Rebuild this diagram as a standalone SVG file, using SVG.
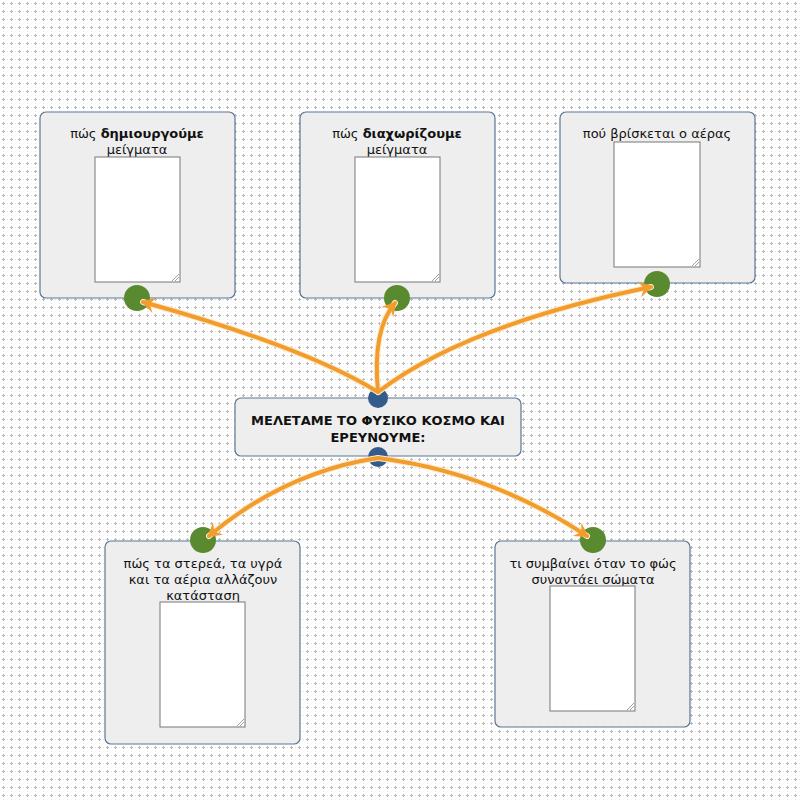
<svg xmlns="http://www.w3.org/2000/svg" width="800" height="800" viewBox="0 0 800 800">
<defs>
<pattern id="grid" x="0" y="0" width="8" height="8" patternUnits="userSpaceOnUse">
<rect x="3" y="2" width="1" height="3" fill="#b8b8b8"/>
<rect x="2" y="3" width="3" height="1" fill="#b8b8b8"/>
<rect x="7" y="3" width="1" height="1" fill="#e0e0e0"/>
<rect x="3" y="7" width="1" height="1" fill="#e0e0e0"/>
</pattern>
<marker id="arr" viewBox="0 0 20 20" refX="14" refY="10" markerWidth="20" markerHeight="20" markerUnits="userSpaceOnUse" orient="auto">
<path d="M2,2 L16,10 L2,18 L7,10 Z" fill="#f29c2e"/>
</marker>
<style>
.box{fill:#eeeeee;stroke:#5a7896;stroke-width:1.2}
.ta{fill:#ffffff;stroke:#777;stroke-width:1}
.grip{stroke:#888;stroke-width:0.8}
.port{fill:#5a8a2f}
.hub{fill:#335c8c}
.t{font-family:"DejaVu Sans",Verdana,sans-serif;font-size:13px;fill:#111;text-anchor:middle}
.b{font-weight:bold}
.halo{fill:none;stroke:#fde9c4;stroke-width:6;stroke-linecap:round}
.edge{fill:none;stroke:#f29c2e;stroke-width:4;stroke-linecap:round}
</style>
</defs>
<rect width="800" height="800" fill="#ffffff"/>
<rect x="0" y="0" width="800" height="800" fill="url(#grid)"/>

<g id="node1">
<rect class="box" x="40" y="112" width="195" height="186" rx="6"/>
<text class="t" x="137" y="138">πώς <tspan class="b">δημιουργούμε</tspan></text>
<text class="t" x="137" y="154">μείγματα</text>
<rect class="ta" x="95" y="157" width="85" height="125"/>
<path class="grip" d="M172,281 L179,274 M175,281 L179,277"/>
</g>
<g id="node2">
<rect class="box" x="300" y="112" width="195" height="186" rx="6"/>
<text class="t" x="397" y="138">πώς <tspan class="b">διαχωρίζουμε</tspan></text>
<text class="t" x="397" y="154">μείγματα</text>
<rect class="ta" x="355" y="157" width="85" height="125"/>
<path class="grip" d="M432,281 L439,274 M435,281 L439,277"/>
</g>
<g id="node3">
<rect class="box" x="560" y="112" width="195" height="171" rx="6"/>
<text class="t" x="657" y="138">πού βρίσκεται ο αέρας</text>
<rect class="ta" x="614" y="142" width="86" height="125"/>
<path class="grip" d="M692,266 L699,259 M695,266 L699,262"/>
</g>
<g id="center">
<rect class="box" x="235" y="398" width="286" height="58" rx="6"/>
<text class="t b" x="378" y="425">ΜΕΛΕΤΑΜΕ ΤΟ ΦΥΣΙΚΟ ΚΟΣΜΟ ΚΑΙ</text>
<text class="t b" x="378" y="442">ΕΡΕΥΝΟΥΜΕ:</text>
</g>
<g id="node4">
<rect class="box" x="105" y="541" width="195" height="203" rx="6"/>
<text class="t" x="203" y="568">πώς τα στερεά, τα υγρά</text>
<text class="t" x="203" y="584">και τα αέρια αλλάζουν</text>
<text class="t" x="203" y="600">κατάσταση</text>
<rect class="ta" x="160" y="602" width="85" height="125"/>
<path class="grip" d="M237,726 L244,719 M240,726 L244,722"/>
</g>
<g id="node5">
<rect class="box" x="495" y="541" width="195" height="186" rx="6"/>
<text class="t" x="593" y="568">τι συμβαίνει όταν το φώς</text>
<text class="t" x="593" y="584">συναντάει σώματα</text>
<rect class="ta" x="550" y="586" width="85" height="125"/>
<path class="grip" d="M627,710 L634,703 M630,710 L634,706"/>
</g>

<g id="ports">
<circle class="port" cx="137" cy="298" r="13"/>
<circle class="port" cx="397" cy="298" r="13"/>
<circle class="port" cx="657" cy="284" r="13"/>
<circle class="port" cx="203" cy="540" r="13"/>
<circle class="port" cx="593" cy="540" r="13"/>
<circle class="hub" cx="378" cy="398" r="10"/>
<circle class="hub" cx="378" cy="457" r="10"/>
</g>

<g id="connectors">
<path class="halo" d="M378,392 Q305,347 143,302"/>
<path class="halo" d="M378,392 Q372,330 395,303"/>
<path class="halo" d="M378,392 Q465,325 651,287"/>
<path class="halo" d="M378,458 Q285,472 209,536"/>
<path class="halo" d="M378,458 Q490,472 587,536"/>
<path class="edge" d="M378,392 Q305,347 143,302" marker-end="url(#arr)"/>
<path class="edge" d="M378,392 Q372,330 395,303" marker-end="url(#arr)"/>
<path class="edge" d="M378,392 Q465,325 651,287" marker-end="url(#arr)"/>
<path class="edge" d="M378,458 Q285,472 209,536" marker-end="url(#arr)"/>
<path class="edge" d="M378,458 Q490,472 587,536" marker-end="url(#arr)"/>
</g>
</svg>
